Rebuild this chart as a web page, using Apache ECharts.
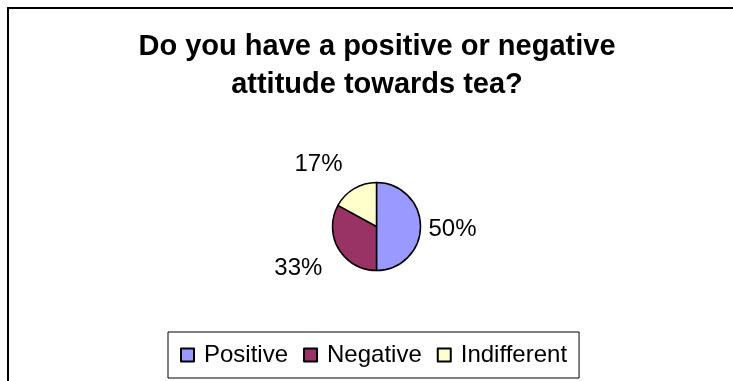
<!DOCTYPE html>
<html>
<head>
<meta charset="utf-8">
<script src="https://cdn.jsdelivr.net/npm/echarts@6/dist/echarts.min.js"></script>
<style>
html,body{margin:0;padding:0;background:#fff;}
#chart{width:733px;height:381px;}
</style>
</head>
<body>
<div id="chart"></div>
<script>
var titleLines = ['Do you have a positive or negative', 'attitude towards tea?'];
var categories = ['Positive', 'Negative', 'Indifferent'];
var values = [50, 33, 17];
var colors = ['#9999FF', '#993366', '#FFFFCC'];
var labelShift = [[-2, 3], [-7, 17], [-4, -20]];

var chart = echarts.init(document.getElementById('chart'));
var data = categories.map(function (c, i) {
  return { name: c, value: values[i], itemStyle: { color: colors[i] } };
});
chart.setOption({
  animation: false,
  graphic: [{
    type: 'rect',
    shape: { x: 8, y: 8, width: 900, height: 900 },
    style: { fill: 'none', stroke: '#000', lineWidth: 2 },
    silent: true
  }],
  title: {
    text: titleLines.join('\n'),
    left: 377,
    top: 28,
    padding: 0,
    textAlign: 'center',
    textStyle: {
      fontFamily: 'Liberation Sans, Arial, sans-serif',
      fontWeight: 'bold',
      fontSize: 29,
      lineHeight: 38,
      color: '#000'
    }
  },
  legend: {
    data: categories,
    left: 168,
    top: 332,
    orient: 'horizontal',
    padding: [11, 12, 11, 12],
    borderColor: '#000',
    borderWidth: 1,
    itemWidth: 13,
    itemHeight: 13,
    itemGap: 15,
    icon: 'rect',
    textStyle: {
      fontFamily: 'Liberation Sans, Arial, sans-serif',
      fontSize: 24,
      color: '#000',
      padding: [0, 0, 0, 5]
    }
  },
  series: [{
    type: 'pie',
    center: [376.5, 226.5],
    radius: 44,
    startAngle: 90,
    clockwise: true,
    avoidLabelOverlap: false,
    itemStyle: { borderColor: '#000', borderWidth: 1.5 },
    emphasis: { disabled: true },
    label: {
      show: true,
      position: 'outside',
      formatter: '{c}%',
      fontFamily: 'Liberation Sans, Arial, sans-serif',
      fontSize: 24,
      color: '#000'
    },
    labelLine: { show: false, length: 5, length2: 0 },
    labelLayout: function (p) {
      var s = labelShift[p.dataIndex];
      return { dx: s[0], dy: s[1] };
    },
    data: data
  }]
});
</script>
</body>
</html>
